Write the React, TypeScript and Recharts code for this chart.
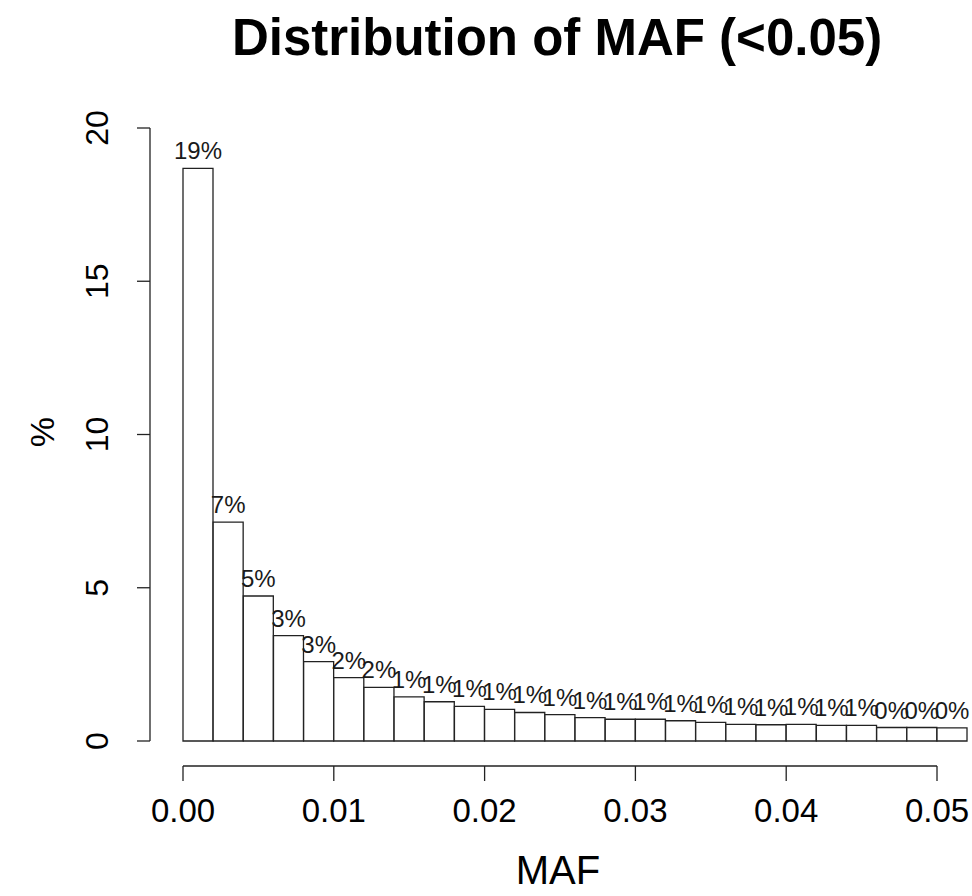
import React from 'react';
import { BarChart, Bar, XAxis, YAxis, ReferenceLine, LabelList } from 'recharts';

// Histogram bins: midpoints of MAF bins (width 0.002)
const binMids = [
  0.001, 0.003, 0.005, 0.007, 0.009, 0.011, 0.013, 0.015, 0.017, 0.019,
  0.021, 0.023, 0.025, 0.027, 0.029, 0.031, 0.033, 0.035, 0.037, 0.039,
  0.041, 0.043, 0.045, 0.047, 0.049, 0.051,
];
// Percent of variants in each bin
const binPct = [
  18.68, 7.14, 4.73, 3.44, 2.59, 2.07, 1.75, 1.44, 1.28, 1.13,
  1.03, 0.93, 0.86, 0.76, 0.71, 0.71, 0.66, 0.61, 0.54, 0.53,
  0.54, 0.51, 0.51, 0.44, 0.44, 0.43,
];
const xTicks = [0, 0.01, 0.02, 0.03, 0.04, 0.05];
const yTicks = [0, 5, 10, 15, 20];

const TITLE = 'Distribution of MAF (<0.05)';
const X_LABEL = 'MAF';
const Y_LABEL = '%';

const X_MIN = -0.0021883;
const X_MAX = 0.052188;
const Y_FLOOR = -0.8157;
const Y_MAX = 20;

const FONT = '"Liberation Sans", Arial, Helvetica, sans-serif';
const INK = '#222';

const data = binMids.map((m, i) => ({ mid: m, pct: binPct[i] }));

const YTick = (props: any) => {
  const { x, y, payload } = props;
  return (
    <text
      x={x}
      y={y}
      transform={`rotate(-90, ${x}, ${y})`}
      textAnchor="middle"
      fontFamily={FONT}
      fontSize={32}
      fill="#000"
    >
      {String(payload.value)}
    </text>
  );
};

export default function App() {
  return (
    <div style={{ position: 'absolute', left: 0, top: 0, width: 972, height: 896, background: '#fff', overflow: 'hidden' }}>
      <BarChart
        width={972}
        height={896}
        data={data}
        margin={{ top: 128, right: 2, bottom: 10, left: 10 }}
        barCategoryGap={0}
        barGap={0}
      >
        <XAxis
          dataKey="mid"
          type="number"
          domain={[X_MIN, X_MAX]}
          allowDataOverflow
          ticks={xTicks}
          interval={0}
          axisLine={false}
          tickSize={15}
          tickMargin={18}
          height={120}
          tickLine={{ stroke: INK, strokeWidth: 1.3 }}
          tick={{ fontFamily: FONT, fontSize: 33, fill: '#000' }}
          tickFormatter={(v: number) => v.toFixed(2)}
        />
        <YAxis
          type="number"
          domain={[Y_FLOOR, Y_MAX]}
          allowDataOverflow
          ticks={yTicks}
          interval={0}
          axisLine={false}
          tickSize={13}
          tickMargin={29}
          width={140}
          tickLine={{ stroke: INK, strokeWidth: 1.3 }}
          tick={<YTick />}
        />
        <ReferenceLine
          segment={[{ x: xTicks[0], y: Y_FLOOR }, { x: xTicks[xTicks.length - 1], y: Y_FLOOR }]}
          stroke={INK}
          strokeWidth={1.3}
          ifOverflow="visible"
        />
        <ReferenceLine
          segment={[{ x: X_MIN, y: yTicks[0] }, { x: X_MIN, y: yTicks[yTicks.length - 1] }]}
          stroke={INK}
          strokeWidth={1.3}
          ifOverflow="visible"
        />
        <Bar dataKey="pct" fill="#fff" stroke={INK} strokeWidth={1.3} isAnimationActive={false}>
          <LabelList
            dataKey="pct"
            position="top"
            offset={9}
            formatter={(v: any) => `${Math.round(Number(v))}%`}
            style={{ fontFamily: FONT, fontSize: 24, fill: '#1a1a1a' }}
          />
        </Bar>
      </BarChart>
      <svg width={972} height={896} style={{ position: 'absolute', left: 0, top: 0, pointerEvents: 'none' }}>
        <text x={557} y={55} textAnchor="middle" fontFamily={FONT} fontWeight="bold" fontSize={51} fill="#000">
          {TITLE}
        </text>
        <text x={558} y={884} textAnchor="middle" fontFamily={FONT} fontSize={40} fill="#000">
          {X_LABEL}
        </text>
        <text x={54} y={432} transform="rotate(-90, 54, 432)" textAnchor="middle" fontFamily={FONT} fontSize={34} fill="#000">
          {Y_LABEL}
        </text>
      </svg>
    </div>
  );
}
